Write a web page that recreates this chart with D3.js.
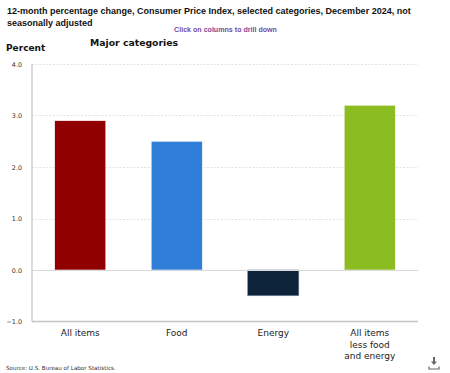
<!DOCTYPE html>
<html>
<head>
<meta charset="utf-8">
<script src="https://cdn.jsdelivr.net/npm/d3@7"></script>
<style>
  body { margin: 0; background: #fff; }
  svg { display: block; }
</style>
</head>
<body>
<div id="chart"></div>
<script>
// Dec 2024 CPI, 12-month % change
const categories = ["All items", "Food", "Energy", "All items less food and energy"];
const labelLines = [["All items"], ["Food"], ["Energy"], ["All items", "less food", "and energy"]];
const values = [2.9, 2.5, -0.5, 3.2];
const colors = ["#910000", "#2f7ed8", "#0d233a", "#8bbc21"];
const yTicks = [-1, 0, 1, 2, 3, 4];

const width = 450, height = 373;
const plot = { left: 32, right: 418, top: 64, bottom: 321.5 };

const svg = d3.select("#chart").append("svg")
    .attr("width", width)
    .attr("height", height);

const x = d3.scaleBand()
    .domain(categories)
    .range([plot.left, plot.right])
    .paddingInner(0.47)
    .paddingOuter(0.235);

const y = d3.scaleLinear()
    .domain([-1, 4])
    .range([plot.bottom, plot.top]);

// titles
const title = svg.append("text")
    .attr("x", 7)
    .attr("y", 14)
    .attr("font-family", "Liberation Sans, Arial, sans-serif")
    .attr("font-weight", "bold")
    .attr("font-size", 9)
    .attr("fill", "#111");
title.append("tspan").attr("x", 7).text("12-month percentage change, Consumer Price Index, selected categories, December 2024, not");
title.append("tspan").attr("x", 7).attr("dy", 11.5).text("seasonally adjusted");

svg.append("text")
    .attr("x", 225.5)
    .attr("y", 32)
    .attr("text-anchor", "middle")
    .attr("font-family", "Liberation Sans, Arial, sans-serif")
    .attr("font-weight", "bold")
    .attr("font-size", 7.1)
    .attr("fill", "#7a4a98")
    .text("Click on columns to drill down");

svg.append("text")
    .attr("x", 6)
    .attr("y", 51)
    .attr("font-family", "DejaVu Sans, Verdana, sans-serif")
    .attr("font-weight", "bold")
    .attr("font-size", 9)
    .attr("fill", "#111")
    .text("Percent");

svg.append("text")
    .attr("x", 90)
    .attr("y", 46)
    .attr("font-family", "DejaVu Sans, Verdana, sans-serif")
    .attr("font-weight", "bold")
    .attr("font-size", 9.3)
    .attr("fill", "#111")
    .text("Major categories");

// gridlines
svg.append("g")
    .selectAll("line")
    .data(yTicks.filter(d => d > 0))
    .join("line")
    .attr("x1", plot.left)
    .attr("x2", plot.right)
    .attr("y1", d => Math.round(y(d)) + 0.5)
    .attr("y2", d => Math.round(y(d)) + 0.5)
    .attr("stroke", "#e2e2e2")
    .attr("stroke-dasharray", "2,1.5");

// y tick labels
svg.append("g")
    .selectAll("text")
    .data(yTicks)
    .join("text")
    .attr("x", 22)
    .attr("y", d => y(d) + 2.5)
    .attr("text-anchor", "end")
    .attr("font-family", "DejaVu Sans, Verdana, sans-serif")
    .attr("font-size", 6.4)
    .attr("fill", "#333")
    .text(d => d3.format(".1f")(d));

// bars
svg.append("g")
    .selectAll("rect")
    .data(values)
    .join("rect")
    .attr("x", (d, i) => x(categories[i]))
    .attr("width", x.bandwidth())
    .attr("y", d => y(Math.max(0, d)))
    .attr("height", d => Math.abs(y(d) - y(0)))
    .attr("fill", (d, i) => colors[i])
    .attr("stroke", (d, i) => i === 2 ? "#7d8c9c" : "#fff")
    .attr("stroke-width", 0.6);

// zero line
svg.append("line")
    .attr("x1", plot.left)
    .attr("x2", plot.right)
    .attr("y1", Math.round(y(0)) + 0.5)
    .attr("y2", Math.round(y(0)) + 0.5)
    .attr("stroke", "#d8d8d8");

// axis lines
svg.append("line")
    .attr("x1", plot.left).attr("x2", plot.left)
    .attr("y1", plot.top).attr("y2", plot.bottom)
    .attr("stroke", "#c4c4c4")
    .attr("stroke-width", 1.2);
svg.append("line")
    .attr("x1", plot.left).attr("x2", plot.right)
    .attr("y1", plot.bottom).attr("y2", plot.bottom)
    .attr("stroke", "#c4c4c4")
    .attr("stroke-width", 1.5);

// category labels
const xl = svg.append("g")
    .selectAll("text")
    .data(categories)
    .join("text")
    .attr("x", d => x(d) + x.bandwidth() / 2)
    .attr("y", 336)
    .attr("text-anchor", "middle")
    .attr("font-family", "DejaVu Sans, Verdana, sans-serif")
    .attr("font-size", 9)
    .attr("fill", "#222");
xl.each(function(d, i) {
    const t = d3.select(this);
    labelLines[i].forEach((line, j) => {
        t.append("tspan")
            .attr("x", x(d) + x.bandwidth() / 2)
            .attr("dy", j === 0 ? 0 : 11.5)
            .text(line);
    });
});

// source
svg.append("text")
    .attr("x", 6)
    .attr("y", 370)
    .attr("font-family", "DejaVu Sans, Verdana, sans-serif")
    .attr("font-size", 5.6)
    .attr("fill", "#333")
    .text("Source: U.S. Bureau of Labor Statistics.");

// download icon
const icon = svg.append("g").attr("transform", "translate(434,363)")
    .attr("fill", "none").attr("stroke", "#666");
icon.append("line").attr("x1", 0).attr("x2", 0).attr("y1", -6).attr("y2", -1).attr("stroke-width", 2);
icon.append("path").attr("d", "M-3,-1.5 L3,-1.5 L0,2 Z").attr("fill", "#666").attr("stroke", "none");
icon.append("path").attr("d", "M-5,3.5 L-5,6 L5,6 L5,3.5").attr("stroke-width", 1.2);
</script>
</body>
</html>
